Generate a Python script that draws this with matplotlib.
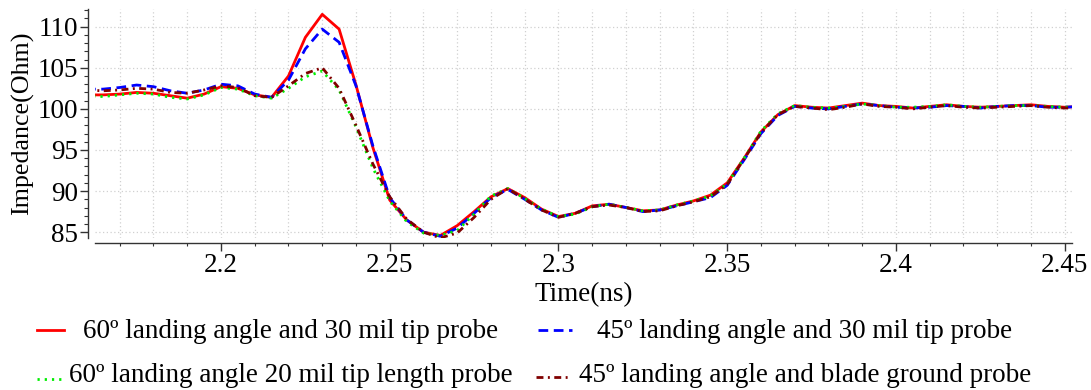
import matplotlib
matplotlib.use("Agg")
import matplotlib.pyplot as plt
from matplotlib.lines import Line2D
from matplotlib.ticker import MultipleLocator

plt.rcParams['font.family'] = ['Liberation Serif', 'DejaVu Serif']

time_ns = [2.160, 2.165, 2.170, 2.175, 2.180, 2.185, 2.190, 2.195, 2.200, 2.205,
           2.210, 2.215, 2.220, 2.225, 2.230, 2.235, 2.240, 2.245, 2.250, 2.255,
           2.260, 2.265, 2.270, 2.275, 2.280, 2.285, 2.290, 2.295, 2.300, 2.305,
           2.310, 2.315, 2.320, 2.325, 2.330, 2.335, 2.340, 2.345, 2.350, 2.355,
           2.360, 2.365, 2.370, 2.375, 2.380, 2.385, 2.390, 2.395, 2.400, 2.405,
           2.410, 2.415, 2.420, 2.425, 2.430, 2.435, 2.440, 2.445, 2.450, 2.455]

z_60_30mil = [101.7, 101.7, 101.8, 102.0, 101.9, 101.6, 101.3, 101.8, 102.7, 102.5,
              101.7, 101.4, 104.0, 108.7, 111.5, 109.7, 102.9, 95.3, 88.9, 86.5,
              85.0, 84.6, 85.8, 87.5, 89.3, 90.3, 89.2, 87.8, 86.9, 87.3,
              88.2, 88.4, 88.0, 87.6, 87.7, 88.3, 88.8, 89.5, 91.0, 94.0,
              97.2, 99.3, 100.4, 100.2, 100.1, 100.4, 100.7, 100.4, 100.3, 100.1,
              100.3, 100.5, 100.3, 100.2, 100.3, 100.4, 100.5, 100.3, 100.2, 100.3]

z_45_30mil = [102.4, 102.4, 102.6, 102.9, 102.7, 102.2, 101.9, 102.3, 103.0, 102.8,
              101.8, 101.4, 103.5, 107.3, 109.7, 108.1, 102.8, 95.5, 89.2, 86.5,
              85.0, 84.5, 85.5, 87.3, 89.2, 90.2, 89.0, 87.7, 86.8, 87.3,
              88.1, 88.4, 88.0, 87.5, 87.7, 88.2, 88.7, 89.2, 90.7, 93.8,
              97.0, 99.2, 100.3, 100.1, 100.0, 100.3, 100.6, 100.4, 100.2, 100.1,
              100.2, 100.4, 100.3, 100.1, 100.3, 100.4, 100.4, 100.2, 100.2, 100.3]

z_60_20mil = [101.6, 101.5, 101.7, 101.9, 101.8, 101.4, 101.2, 101.7, 102.6, 102.4,
              101.6, 101.3, 102.5, 103.9, 104.6, 102.3, 97.8, 92.8, 88.8, 86.3,
              84.9, 84.6, 85.2, 87.2, 89.4, 90.3, 89.1, 87.8, 86.9, 87.2,
              88.1, 88.4, 88.0, 87.6, 87.7, 88.3, 88.8, 89.4, 90.9, 94.0,
              97.3, 99.4, 100.4, 100.2, 100.1, 100.3, 100.6, 100.4, 100.2, 100.2,
              100.3, 100.5, 100.3, 100.2, 100.3, 100.4, 100.4, 100.3, 100.2, 100.3]

z_45_blade = [102.3, 102.2, 102.3, 102.5, 102.4, 102.0, 101.9, 102.3, 102.8, 102.6,
              101.6, 101.4, 102.8, 104.3, 105.0, 102.5, 98.0, 93.3, 89.3, 86.6,
              85.0, 84.3, 84.9, 86.8, 89.0, 90.3, 89.0, 87.7, 86.8, 87.3,
              88.1, 88.3, 88.0, 87.5, 87.6, 88.2, 88.7, 89.3, 90.8, 93.9,
              97.1, 99.3, 100.3, 100.1, 99.9, 100.2, 100.6, 100.3, 100.2, 100.0,
              100.2, 100.4, 100.2, 100.1, 100.2, 100.3, 100.4, 100.2, 100.1, 100.2]

labels = ["60º landing angle and 30 mil tip probe",
          "45º landing angle and 30 mil tip probe",
          "60º landing angle 20 mil tip length probe",
          "45º landing angle and blade ground probe"]
colors = ["#ff0000", "#0000ff", "#00ee00", "#800000"]
styles = ["-", (0, (3.5, 2.0)), (0, (0.8, 1.8)), (0, (2.5, 1.6, 0.7, 1.6))]
series = [z_60_30mil, z_45_30mil, z_60_20mil, z_45_blade]

FS = 19.5

fig = plt.figure(figsize=(10.91, 3.90), dpi=100)
ax = fig.add_axes([95/1091, 1 - 238/390, 977/1091, 229/390])

for y, c, ls in zip(series, colors, styles):
    ax.plot(time_ns, y, color=c, linestyle=ls, linewidth=2.0)

ax.set_xlim(2.16267, 2.45215)
ax.set_ylim(84.29, 112.15)

ax.xaxis.set_major_locator(MultipleLocator(0.05))
ax.xaxis.set_minor_locator(MultipleLocator(0.01))
ax.yaxis.set_major_locator(MultipleLocator(5))
ax.yaxis.set_minor_locator(MultipleLocator(1))
ax.set_xticks([2.2, 2.25, 2.3, 2.35, 2.4, 2.45])
ax.set_xticklabels(["2.2", "2.25", "2.3", "2.35", "2.4", "2.45"])

ax.grid(which='major', axis='y', color='#d0d0d0', linestyle=(0, (1, 2)), linewidth=0.9)
ax.grid(which='both', axis='x', color='#d0d0d0', linestyle=(0, (1, 2)), linewidth=0.9)

for s in ['top', 'right']:
    ax.spines[s].set_visible(False)
ax.spines['left'].set_position(('outward', 5))
ax.spines['bottom'].set_position(('outward', 3.6))
for s in ['left', 'bottom']:
    ax.spines[s].set_color('#333333')
    ax.spines[s].set_linewidth(1.0)

ax.tick_params(axis='both', which='major', labelsize=FS, length=5.5, width=1.0,
               color='#333333', pad=2)
ax.tick_params(axis='both', which='minor', length=2.8, width=0.8, color='#333333')
ax.tick_params(axis='x', which='minor', length=2.5)

ax.set_xlabel("Time(ns)", fontsize=FS, labelpad=3)
ax.set_ylabel("Impedance(Ohm)", fontsize=18.7, labelpad=2)

# legend (two columns, centered text, no frame)
handle_pos = [(37, 64, 330), (538, 572, 330), (37, 64, 379), (536, 571, 377)]
text_pos = [(291, 338), (805, 338), (291, 382), (805, 382)]
for lab, c, ls, (x0, x1, yh), (xt, yt) in zip(labels, colors, styles, handle_pos, text_pos):
    fig.add_artist(Line2D([x0/1091, x1/1091], [1 - yh/390, 1 - yh/390],
                          transform=fig.transFigure, color=c, linestyle=ls, linewidth=2.0))
    fig.text(xt/1091, 1 - yt/390, lab, fontsize=FS, ha='center', va='baseline')

fig.savefig("out.png", dpi=100)
